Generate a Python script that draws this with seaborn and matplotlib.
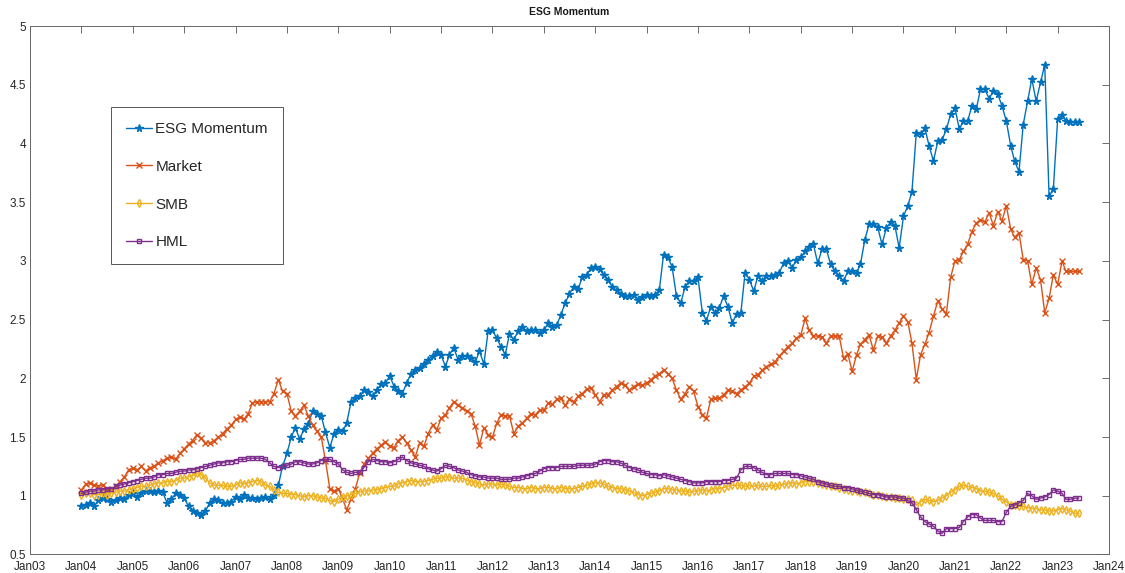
import matplotlib
matplotlib.use("Agg")
import matplotlib.pyplot as plt
import matplotlib.dates as mdates
from matplotlib.ticker import FuncFormatter, MultipleLocator
import numpy as np
import pandas as pd
import seaborn as sns

# monthly cumulative returns, Jan 2004 .. Jun 2023 (one row per year)
esg_momentum = [
    0.91, 0.92, 0.94, 0.91, 0.96, 0.98, 0.97, 0.95, 0.96, 0.98, 0.97, 1.01,
    1.02, 0.99, 1.02, 1.04, 1.04, 1.03, 1.04, 1.03, 0.94, 0.97, 1.02, 1.01,
    0.98, 0.91, 0.87, 0.85, 0.84, 0.87, 0.94, 0.97, 0.96, 0.94, 0.94, 0.95,
    0.99, 0.97, 1.01, 0.98, 0.98, 0.97, 0.98, 0.99, 0.97, 1.01, 1.09, 1.25,
    1.36, 1.50, 1.58, 1.48, 1.57, 1.61, 1.72, 1.70, 1.68, 1.54, 1.41, 1.53,
    1.56, 1.55, 1.62, 1.80, 1.83, 1.85, 1.90, 1.88, 1.85, 1.90, 1.95, 1.96,
    2.02, 1.93, 1.89, 1.87, 1.96, 2.04, 2.07, 2.09, 2.12, 2.16, 2.19, 2.22,
    2.20, 2.10, 2.20, 2.26, 2.16, 2.19, 2.19, 2.17, 2.14, 2.23, 2.12, 2.40,
    2.41, 2.34, 2.27, 2.20, 2.38, 2.33, 2.40, 2.44, 2.40, 2.41, 2.41, 2.39,
    2.41, 2.47, 2.44, 2.45, 2.54, 2.64, 2.72, 2.78, 2.76, 2.86, 2.88, 2.94,
    2.95, 2.93, 2.88, 2.84, 2.78, 2.75, 2.72, 2.70, 2.70, 2.71, 2.67, 2.69,
    2.71, 2.70, 2.71, 2.75, 3.05, 3.03, 2.95, 2.70, 2.64, 2.78, 2.83, 2.83,
    2.86, 2.56, 2.49, 2.61, 2.56, 2.60, 2.70, 2.61, 2.47, 2.55, 2.56, 2.90,
    2.84, 2.74, 2.87, 2.83, 2.87, 2.87, 2.88, 2.90, 2.98, 3.00, 2.94, 3.01,
    3.03, 3.08, 3.12, 3.14, 2.98, 3.10, 3.10, 2.97, 2.91, 2.87, 2.83, 2.91,
    2.91, 2.90, 2.97, 3.18, 3.31, 3.31, 3.29, 3.14, 3.28, 3.33, 3.30, 3.11,
    3.38, 3.47, 3.59, 4.09, 4.08, 4.13, 3.98, 3.85, 4.02, 4.03, 4.12, 4.25,
    4.30, 4.12, 4.19, 4.19, 4.32, 4.29, 4.46, 4.46, 4.38, 4.45, 4.42, 4.32,
    4.19, 3.98, 3.85, 3.76, 4.16, 4.36, 4.55, 4.36, 4.52, 4.67, 3.55, 3.61,
    4.21, 4.24, 4.19, 4.18, 4.18, 4.18,
]

market = [
    1.05, 1.10, 1.11, 1.09, 1.08, 1.09, 1.06, 1.05, 1.08, 1.12, 1.16, 1.22,
    1.24, 1.22, 1.25, 1.21, 1.24, 1.25, 1.28, 1.30, 1.32, 1.33, 1.31, 1.36,
    1.40, 1.44, 1.47, 1.52, 1.49, 1.45, 1.45, 1.47, 1.50, 1.53, 1.57, 1.60,
    1.65, 1.67, 1.65, 1.70, 1.79, 1.80, 1.80, 1.80, 1.80, 1.87, 1.99, 1.89,
    1.87, 1.72, 1.68, 1.72, 1.77, 1.68, 1.60, 1.55, 1.50, 1.30, 1.06, 1.04,
    1.06, 0.97, 0.88, 0.97, 1.06, 1.19, 1.27, 1.32, 1.36, 1.40, 1.43, 1.46,
    1.42, 1.41, 1.47, 1.50, 1.45, 1.39, 1.33, 1.45, 1.42, 1.53, 1.60, 1.56,
    1.66, 1.69, 1.75, 1.80, 1.77, 1.75, 1.72, 1.70, 1.59, 1.43, 1.58, 1.52,
    1.50, 1.62, 1.69, 1.68, 1.68, 1.53, 1.59, 1.62, 1.66, 1.70, 1.69, 1.73,
    1.73, 1.79, 1.78, 1.82, 1.83, 1.77, 1.82, 1.80, 1.85, 1.87, 1.91, 1.92,
    1.86, 1.80, 1.86, 1.86, 1.90, 1.93, 1.96, 1.94, 1.90, 1.93, 1.95, 1.94,
    1.96, 1.99, 2.02, 2.04, 2.07, 2.04, 2.00, 1.90, 1.82, 1.87, 1.93, 1.89,
    1.76, 1.69, 1.66, 1.82, 1.83, 1.83, 1.86, 1.90, 1.89, 1.87, 1.90, 1.93,
    1.96, 2.02, 2.03, 2.07, 2.10, 2.12, 2.14, 2.19, 2.23, 2.27, 2.30, 2.34,
    2.37, 2.51, 2.41, 2.36, 2.36, 2.35, 2.30, 2.36, 2.36, 2.36, 2.17, 2.21,
    2.06, 2.20, 2.29, 2.33, 2.37, 2.24, 2.36, 2.35, 2.30, 2.36, 2.41, 2.47,
    2.53, 2.48, 2.30, 1.99, 2.20, 2.29, 2.39, 2.53, 2.66, 2.59, 2.55, 2.86,
    3.00, 3.01, 3.08, 3.14, 3.25, 3.32, 3.35, 3.33, 3.41, 3.30, 3.42, 3.34,
    3.47, 3.27, 3.20, 3.24, 3.01, 3.00, 2.80, 2.94, 2.84, 2.56, 2.68, 2.88,
    2.80, 3.00, 2.91, 2.91, 2.91, 2.91,
]

smb = [
    1.01, 1.02, 1.02, 1.01, 1.01, 1.02, 1.01, 1.02, 1.03, 1.04, 1.04, 1.05,
    1.06, 1.07, 1.08, 1.08, 1.09, 1.10, 1.11, 1.11, 1.12, 1.12, 1.13, 1.15,
    1.15, 1.16, 1.17, 1.19, 1.18, 1.15, 1.11, 1.09, 1.09, 1.09, 1.08, 1.08,
    1.09, 1.11, 1.10, 1.11, 1.12, 1.13, 1.12, 1.09, 1.08, 1.05, 1.03, 1.02,
    1.02, 1.01, 1.01, 1.00, 0.99, 1.00, 1.00, 0.99, 0.98, 0.98, 0.96, 0.95,
    0.97, 0.99, 1.00, 1.01, 1.02, 1.03, 1.04, 1.04, 1.05, 1.05, 1.06, 1.07,
    1.08, 1.08, 1.10, 1.11, 1.12, 1.13, 1.12, 1.12, 1.12, 1.13, 1.14, 1.15,
    1.15, 1.16, 1.16, 1.15, 1.15, 1.15, 1.13, 1.12, 1.11, 1.10, 1.09, 1.10,
    1.10, 1.09, 1.10, 1.09, 1.08, 1.07, 1.07, 1.06, 1.06, 1.07, 1.06, 1.06,
    1.07, 1.07, 1.06, 1.06, 1.07, 1.06, 1.06, 1.06, 1.07, 1.08, 1.09, 1.10,
    1.11, 1.11, 1.10, 1.08, 1.07, 1.06, 1.06, 1.05, 1.04, 1.03, 1.01, 1.00,
    1.01, 1.02, 1.03, 1.04, 1.06, 1.06, 1.05, 1.05, 1.04, 1.04, 1.03, 1.04,
    1.04, 1.05, 1.04, 1.05, 1.06, 1.06, 1.07, 1.08, 1.09, 1.09, 1.09, 1.08,
    1.09, 1.08, 1.09, 1.08, 1.08, 1.09, 1.08, 1.09, 1.10, 1.10, 1.11, 1.10,
    1.11, 1.12, 1.12, 1.12, 1.11, 1.10, 1.09, 1.08, 1.08, 1.07, 1.06, 1.05,
    1.04, 1.04, 1.03, 1.03, 1.02, 1.01, 1.01, 1.00, 0.99, 0.99, 0.98, 0.98,
    0.97, 0.97, 0.96, 0.92, 0.95, 0.97, 0.96, 0.95, 0.96, 0.98, 1.00, 1.03,
    1.05, 1.08, 1.09, 1.08, 1.07, 1.06, 1.04, 1.04, 1.03, 1.02, 1.00, 0.97,
    0.95, 0.92, 0.92, 0.91, 0.91, 0.90, 0.89, 0.89, 0.88, 0.88, 0.87, 0.87,
    0.88, 0.89, 0.88, 0.87, 0.85, 0.85,
]

hml = [
    1.02, 1.03, 1.04, 1.04, 1.05, 1.05, 1.06, 1.06, 1.08, 1.09, 1.10, 1.11,
    1.12, 1.13, 1.14, 1.15, 1.15, 1.16, 1.18, 1.18, 1.19, 1.19, 1.20, 1.21,
    1.21, 1.22, 1.22, 1.23, 1.24, 1.25, 1.26, 1.27, 1.28, 1.28, 1.29, 1.29,
    1.30, 1.31, 1.31, 1.32, 1.32, 1.32, 1.32, 1.31, 1.28, 1.25, 1.24, 1.25,
    1.26, 1.27, 1.29, 1.29, 1.28, 1.27, 1.27, 1.28, 1.30, 1.31, 1.31, 1.29,
    1.27, 1.22, 1.20, 1.19, 1.20, 1.20, 1.24, 1.29, 1.31, 1.30, 1.29, 1.29,
    1.28, 1.29, 1.31, 1.33, 1.30, 1.28, 1.27, 1.26, 1.25, 1.23, 1.22, 1.21,
    1.23, 1.26, 1.25, 1.24, 1.22, 1.21, 1.20, 1.18, 1.17, 1.16, 1.16, 1.15,
    1.15, 1.15, 1.14, 1.14, 1.14, 1.15, 1.15, 1.16, 1.17, 1.18, 1.19, 1.21,
    1.23, 1.24, 1.24, 1.24, 1.25, 1.25, 1.25, 1.25, 1.26, 1.26, 1.26, 1.26,
    1.27, 1.29, 1.30, 1.30, 1.29, 1.29, 1.28, 1.26, 1.24, 1.23, 1.22, 1.20,
    1.19, 1.18, 1.18, 1.17, 1.18, 1.17, 1.16, 1.15, 1.14, 1.13, 1.12, 1.11,
    1.11, 1.11, 1.12, 1.12, 1.12, 1.12, 1.13, 1.13, 1.14, 1.15, 1.22, 1.25,
    1.25, 1.24, 1.22, 1.20, 1.18, 1.18, 1.19, 1.19, 1.19, 1.19, 1.18, 1.18,
    1.17, 1.16, 1.15, 1.14, 1.12, 1.11, 1.10, 1.09, 1.08, 1.08, 1.07, 1.07,
    1.06, 1.05, 1.04, 1.03, 1.02, 1.01, 1.01, 1.00, 0.99, 0.99, 0.99, 0.98,
    0.98, 0.96, 0.94, 0.88, 0.82, 0.78, 0.76, 0.74, 0.70, 0.68, 0.72, 0.72,
    0.72, 0.73, 0.78, 0.82, 0.84, 0.84, 0.81, 0.79, 0.79, 0.79, 0.78, 0.78,
    0.86, 0.91, 0.92, 0.94, 0.96, 1.02, 1.00, 0.97, 0.98, 0.99, 1.01, 1.05,
    1.04, 1.02, 0.97, 0.97, 0.98, 0.98,
]

dates = pd.date_range("2004-01-01", periods=len(esg_momentum), freq="MS")

series = [
    ("ESG Momentum", esg_momentum, "#0072BD", "*", 5.5, "full"),
    ("Market", market, "#D95319", "x", 5, "full"),
    ("SMB", smb, "#EDB120", "d", 4, "none"),
    ("HML", hml, "#7E2F8E", "s", 3.5, "none"),
]

sns.set_style("white")
plt.rcParams["font.family"] = ["Liberation Sans", "DejaVu Sans"]

fig = plt.figure(figsize=(11.25, 5.73), dpi=100)
ax = fig.add_axes([0.0267, 0.0323, 0.9591, 0.9223])

for name, vals, color, marker, msize, fill in series:
    sns.lineplot(x=dates, y=vals, ax=ax, color=color, linewidth=1.0,
                 marker=marker, markersize=msize, fillstyle=fill,
                 markeredgecolor=color, markeredgewidth=1.0, label=name)

ax.set_xlim(pd.Timestamp("2003-01-01"), pd.Timestamp("2024-01-01"))
ax.set_ylim(0.5, 5)
ax.xaxis.set_major_locator(mdates.YearLocator())
ax.xaxis.set_major_formatter(mdates.DateFormatter("%b%y"))
ax.yaxis.set_major_locator(MultipleLocator(0.5))
ax.yaxis.set_major_formatter(FuncFormatter(lambda v, p: f"{v:g}"))
ax.set_xlabel("")
ax.set_ylabel("")

ax.tick_params(direction="in", top=True, right=True, length=5, width=0.6,
               color="#555555", labelsize=8.5, labelcolor="#262626", pad=3)
ax.tick_params(axis="x", pad=5)
for sp in ax.spines.values():
    sp.set_visible(True)
    sp.set_color("#666666")
    sp.set_linewidth(0.7)

ax.set_title("ESG Momentum", fontsize=7.5, fontweight="bold", color="#1a1a1a", pad=8)

leg = ax.legend(loc="upper left", bbox_to_anchor=(0.075, 0.847), fontsize=11,
                labelspacing=1.55, handlelength=1.7, handletextpad=0.2,
                borderpad=1.0, borderaxespad=0, frameon=True, fancybox=False,
                framealpha=1, edgecolor="#555555")
leg.get_frame().set_linewidth(0.7)

fig.savefig("out.png", dpi=100)
